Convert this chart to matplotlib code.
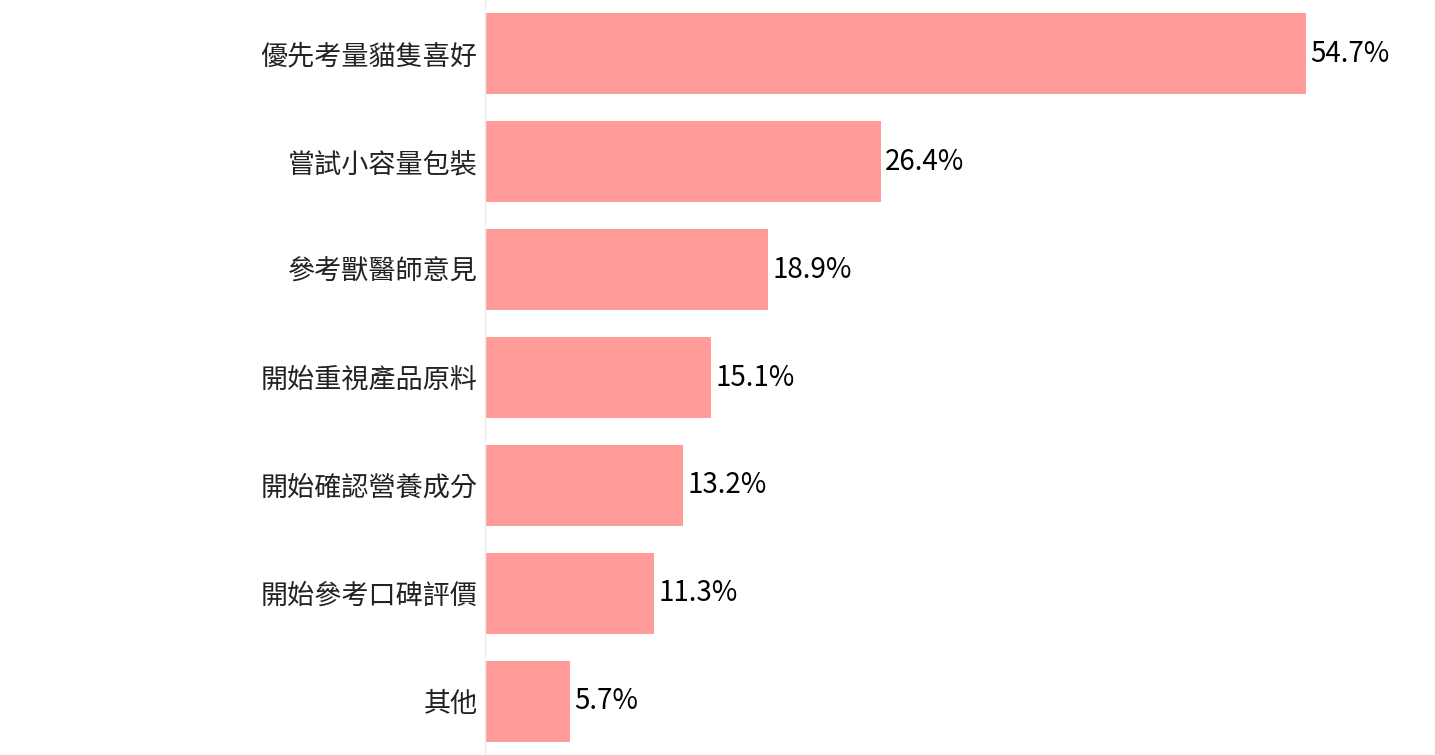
import matplotlib
matplotlib.use("Agg")
import matplotlib.pyplot as plt

plt.rcParams["font.family"] = ["Noto Sans CJK TC", "DejaVu Sans"]

categories = ["優先考量貓隻喜好", "嘗試小容量包裝", "參考獸醫師意見", "開始重視產品原料",
              "開始確認營養成分", "開始參考口碑評價", "其他"]
values = [54.7, 26.4, 18.9, 15.1, 13.2, 11.3, 5.7]
value_labels = ["54.7%", "26.4%", "18.9%", "15.1%", "13.2%", "11.3%", "5.7%"]

fig = plt.figure(figsize=(14.35, 7.55), dpi=100)
ax = fig.add_axes([484.5 / 1435, 0, 1 - 484.5 / 1435, 1])

y = list(range(len(categories)))
bars = ax.barh(y, values, height=0.75, color="#FF9B99")

ax.set_ylim(len(categories) - 0.5, -0.5)
ax.set_xlim(0, 950.5 / 15.01)

ax.set_yticks(y)
ax.set_yticklabels(categories, fontsize=19.5, color="#222222", fontweight="medium")
ax.tick_params(axis="y", length=0, pad=5)
ax.set_xticks([])

for s in ["top", "right", "bottom"]:
    ax.spines[s].set_visible(False)
ax.spines["left"].set_color("#EEEEEE")
ax.spines["left"].set_linewidth(1)

for bar, lab in zip(bars, value_labels):
    ax.text(bar.get_width() + 0.3, bar.get_y() + bar.get_height() / 2, lab,
            va="center", ha="left", fontsize=20, color="black")

plt.savefig("out.png", dpi=100)
plt.close()
